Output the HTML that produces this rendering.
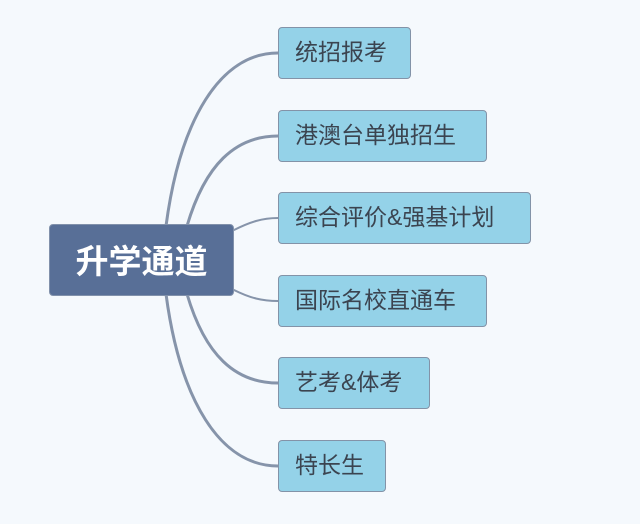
<!DOCTYPE html>
<html><head><meta charset="utf-8"><style>
body{margin:0;width:640px;height:524px;background:#f5f9fd;position:relative;overflow:hidden;font-family:"Liberation Sans","Noto Sans CJK SC",sans-serif}
.b{position:absolute;background:#94d2e8;border:1.5px solid #8393a8;border-radius:4px;box-sizing:border-box;height:52px;line-height:49px;font-size:23px;color:#3b4450;padding-left:16px}
.c{position:absolute;left:49px;top:224px;width:185px;height:72px;background:#586f97;border:1.5px solid #8191ab;border-radius:4px;box-sizing:border-box;color:#fff;font-weight:bold;font-size:33px;line-height:74px;text-align:center}
svg{position:absolute;left:0;top:0}
</style></head><body>
<svg width="640" height="524" fill="none" stroke="#8694aa" stroke-linecap="round">
<path d="M166 226 C180 120 220 53 278 53" stroke-width="3"/>
<path d="M187 226 C205 165 235 136 278 136" stroke-width="3"/>
<path d="M234 230 C250 222 262 218 278 218" stroke-width="2"/>
<path d="M234 290 C250 298 262 301 278 301" stroke-width="2"/>
<path d="M187 294 C205 355 235 383 278 383" stroke-width="3"/>
<path d="M166 294 C180 400 220 466 278 466" stroke-width="3"/>
</svg>
<div class="c">升学通道</div>
<div class="b" style="left:278px;top:27px;width:133px">统招报考</div>
<div class="b" style="left:278px;top:110px;width:209px">港澳台单独招生</div>
<div class="b" style="left:278px;top:192px;width:253px">综合评价&amp;强基计划</div>
<div class="b" style="left:278px;top:275px;width:209px">国际名校直通车</div>
<div class="b" style="left:278px;top:357px;width:152px">艺考&amp;体考</div>
<div class="b" style="left:278px;top:440px;width:108px">特长生</div>
</body></html>
